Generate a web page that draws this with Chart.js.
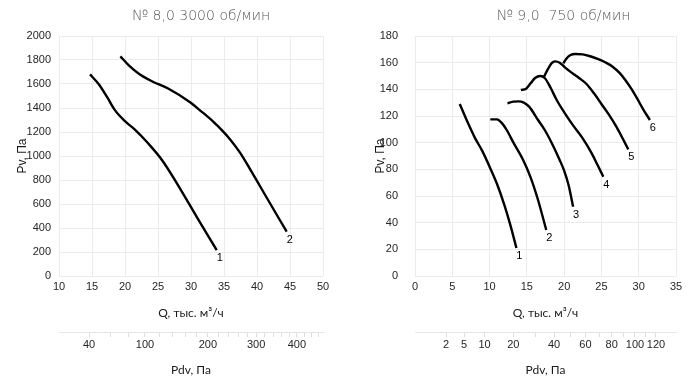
<!DOCTYPE html>
<html><head><meta charset="utf-8">
<script src="https://cdn.jsdelivr.net/npm/chart.js@4.4.0/dist/chart.umd.min.js"></script>
<style>
html,body{margin:0;padding:0;background:#fff;overflow:hidden}
#wrap{position:relative;width:700px;height:382px}
canvas{position:absolute;top:0}
#c1{left:0}
#c2{left:350px}
</style></head><body>
<div id="wrap"><canvas id="c1" width="350" height="382"></canvas><canvas id="c2" width="350" height="382"></canvas></div>
<script>
// ---------- DATA ----------
const leftTitle = '№ 8,0 3000 об/мин';
const rightTitle = '№ 9,0  750 об/мин';
const qAxisTitle = 'Q, тыс. м³/ч';
const pvAxisTitle = 'Pv, Па';
const pdvAxisTitle = 'Pdv, Па';

// left panel curves (Q, тыс. м³/ч ; Pv, Па)
const leftNames = ['1', '2'];
const leftQ1 = [14.7,16.0,17.3,18.5,20.0,21.5,23.5,25.6,28.0,31.0,33.9];
const leftP1 = [1680,1600,1490,1380,1290,1220,1106,967,760,480,215];
const leftQ2 = [19.3,20.5,22.0,24.0,26.6,29.8,31.6,33.4,34.6,35.9,37.4,38.9,41.5,44.5];
const leftP2 = [1830,1760,1690,1625,1560,1450,1370,1285,1220,1140,1030,895,650,369];

// right panel curves
const rightNames = ['1', '2', '3', '4', '5', '6'];
const rightQ1 = [6.0,7.0,8.0,9.0,10.0,11.0,12.0,12.8,13.6];
const rightP1 = [129,116,104,94,82,69,53,38,21];
const rightQ2 = [10.1,11.0,11.6,12.3,13.2,14.5,15.5,16.5,17.6];
const rightP2 = [117.5,117.5,115,109.5,100,87,74,57,34.5];
const rightQ3 = [12.4,13.2,13.9,14.6,15.3,16.5,17.4,18.4,19.4,20.0,20.6,21.2];
const rightP3 = [129.5,130.8,131,130,127,117,109.5,99,87,79,68,52];
const rightQ4 = [14.2,14.9,15.5,16.1,16.8,17.4,18.2,19.0,20.1,21.2,22.4,23.7,24.5,25.25];
const rightP4 = [139.5,140.5,144.5,148.5,150,148.5,141,132,122,113,104,92,83,74.5];
const rightQ5 = [17.3,17.8,18.3,18.8,19.4,20.1,21.0,22.0,23.0,24.0,25.0,26.0,27.0,28.0,28.6];
const rightP5 = [149.5,155,159.5,161,160,156.5,152.5,148.5,144,137,129,121,112,101.5,95];
const rightQ6 = [19.9,20.3,20.8,21.5,22.5,23.5,24.5,25.5,26.5,27.4,28.2,29.0,29.8,30.6,31.5];
const rightP6 = [159.5,163,165.5,166.5,166.2,164.8,162.8,160.3,157,152.5,147,140.5,133,125,117];

// axis ranges / ticks
const leftQRange = [10, 50]; const leftQStep = 5;
const leftPRange = [0, 2000]; const leftPStep = 200;
const rightQRange = [0, 35]; const rightQStep = 5;
const rightPRange = [0, 180]; const rightPStep = 20;

// dynamic pressure scale: Pdv = Q^2 / k
const leftPdvK = 5.3;
const leftPdvTicks = [40,60,80,100,120,140,160,180,200,220,240,260,280,300,320,340,360,380,400,420,440,460];
const leftPdvLabels = [40,100,200,300,400];
const rightPdvK = 8.7;
const rightPdvTicks = [2,5,10,20,30,40,50,60,70,80,90,100,110,120];
const rightPdvLabels = [2,5,10,20,40,60,80,100,120];

// ---------- RENDER ----------
const gridColor = '#ebebeb';
const tickColor = '#262626';
const tickFont = {family: "'Liberation Sans', Arial, sans-serif", size: 11};
const axisTitleFont = {family: "Lato, 'Open Sans', sans-serif", size: 12};

const curveLabelPlugin = {
  id: 'curveLabels',
  afterDatasetsDraw(chart) {
    const ctx = chart.ctx;
    ctx.save();
    ctx.fillStyle = '#000';
    ctx.font = "11px 'Liberation Sans', Arial, sans-serif";
    ctx.textAlign = 'center';
    ctx.textBaseline = 'middle';
    chart.data.datasets.forEach((ds, i) => {
      const pts = chart.getDatasetMeta(i).data;
      const last = pts[pts.length - 1];
      ctx.fillText(ds.label, last.x + 3, last.y + 8);
    });
    ctx.restore();
  }
};

const panelTitlePlugin = {
  id: 'panelTitle',
  afterDraw(chart, args, opts) {
    const ctx = chart.ctx;
    const a = chart.chartArea;
    ctx.save();
    ctx.fillStyle = '#555';
    ctx.font = "200 14px 'DejaVu Sans', Lato, sans-serif";
    ctx.textAlign = 'center';
    ctx.textBaseline = 'middle';
    ctx.fillText(opts.text, (a.left + a.right) / 2 + opts.dx, 16);
    ctx.restore();
  }
};

function makeChart(id, cfg) {
  const datasets = cfg.series.map((s, i) => ({
    label: cfg.names[i],
    data: s[0].map((q, j) => ({x: q, y: s[1][j]})),
    borderColor: '#000',
    borderWidth: 2.4,
    pointRadius: 0,
    fill: false,
    cubicInterpolationMode: 'monotone'
  }));
  return new Chart(document.getElementById(id), {
    type: 'line',
    data: {datasets},
    plugins: [curveLabelPlugin, panelTitlePlugin],
    options: {
      responsive: false,
      animation: false,
      events: [],
      layout: {padding: {top: 36, right: cfg.padRight, left: 0, bottom: 0}},
      plugins: {
        legend: {display: false},
        tooltip: {enabled: false},
        title: {display: false},
        panelTitle: {text: cfg.title, dx: cfg.titleDx}
      },
      scales: {
        x: {
          type: 'linear', position: 'bottom', weight: 0,
          min: cfg.qRange[0], max: cfg.qRange[1],
          ticks: {stepSize: cfg.qStep, padding: 4, font: tickFont, color: tickColor, autoSkip: false, maxRotation: 0,
                  callback: v => String(v)},
          grid: {color: gridColor, drawTicks: false},
          border: {display: false},
          title: {display: true, text: qAxisTitle, font: axisTitleFont, color: '#1a1a1a', padding: {top: 12, bottom: 12}},
          afterFit: s => { s.height = 56; }
        },
        pdv: {
          type: 'linear', position: 'bottom', weight: 1,
          min: cfg.qRange[0], max: cfg.qRange[1],
          afterBuildTicks: s => { s.ticks = cfg.pdvTicks.map(p => ({value: Math.sqrt(cfg.pdvK * p)})); },
          ticks: {
            autoSkip: false, maxRotation: 0, padding: 1, font: tickFont, color: tickColor,
            callback: (v, i) => cfg.pdvLabels.includes(cfg.pdvTicks[i]) ? String(cfg.pdvTicks[i]) : ''
          },
          grid: {drawOnChartArea: false, drawTicks: true, tickLength: 5, color: '#dcdcdc'},
          border: {display: true, color: '#e6e6e6'},
          title: {display: true, text: pdvAxisTitle, font: axisTitleFont, color: '#1a1a1a', padding: {top: 12, bottom: 5}},
          afterFit: s => { s.height = 50; }
        },
        y: {
          type: 'linear', position: 'left',
          min: cfg.pRange[0], max: cfg.pRange[1],
          ticks: {stepSize: cfg.pStep, padding: cfg.yPad, font: tickFont, color: tickColor, callback: v => String(v)},
          grid: {color: gridColor, drawTicks: false},
          border: {display: false},
          title: {display: true, text: pvAxisTitle, font: {family: "'Liberation Sans', Arial, sans-serif", size: 12}, color: '#1a1a1a', padding: {top: cfg.yTitleTop, bottom: 0}},
          afterFit: s => { s.width = cfg.yWidth; }
        }
      }
    }
  });
}

makeChart('c1', {
  title: leftTitle, titleDx: 10, names: leftNames,
  series: [[leftQ1, leftP1], [leftQ2, leftP2]],
  qRange: leftQRange, qStep: leftQStep, pRange: leftPRange, pStep: leftPStep,
  pdvK: leftPdvK, pdvTicks: leftPdvTicks, pdvLabels: leftPdvLabels,
  padRight: 27, yWidth: 59, yPad: 8, yTitleTop: 15
});
makeChart('c2', {
  title: rightTitle, titleDx: 18, names: rightNames,
  series: [[rightQ1, rightP1], [rightQ2, rightP2], [rightQ3, rightP3], [rightQ4, rightP4], [rightQ5, rightP5], [rightQ6, rightP6]],
  qRange: rightQRange, qStep: rightQStep, pRange: rightPRange, pStep: rightPStep,
  pdvK: rightPdvK, pdvTicks: rightPdvTicks, pdvLabels: rightPdvLabels,
  padRight: 24, yWidth: 65, yPad: 17, yTitleTop: 23
});
</script>
</body></html>
